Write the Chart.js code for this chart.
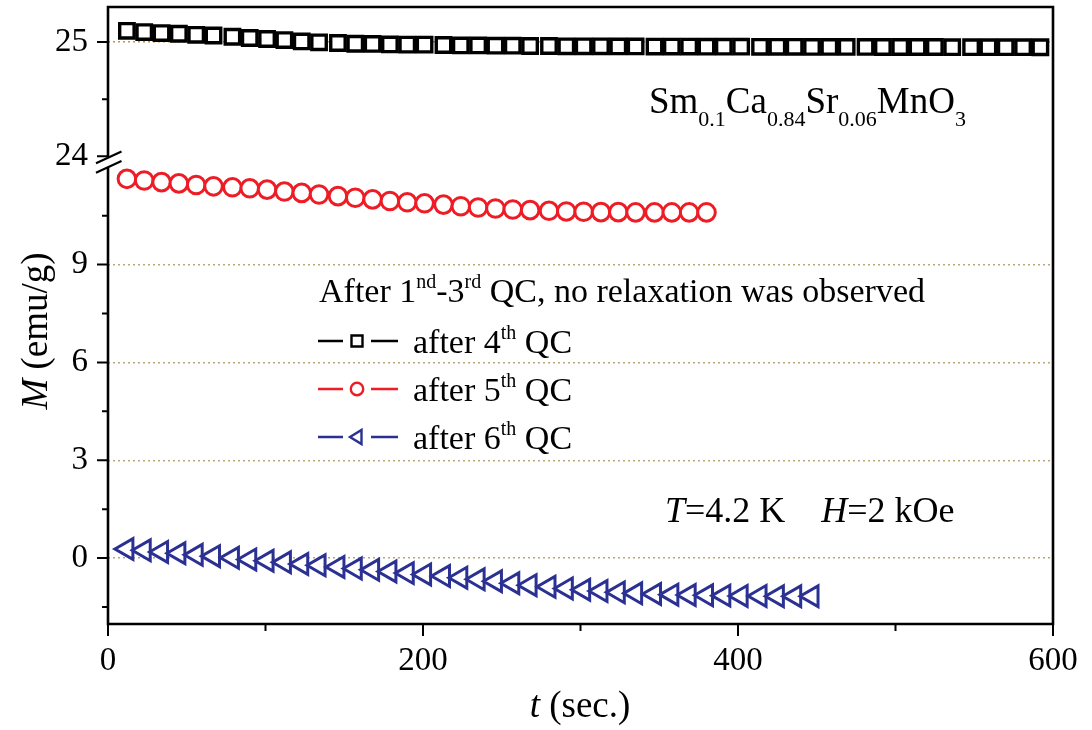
<!DOCTYPE html>
<html><head><meta charset="utf-8">
<script src="https://cdn.jsdelivr.net/npm/chart.js@4.4.0/dist/chart.umd.min.js"></script>
<style>html,body{margin:0;padding:0;background:#fff;} canvas{display:block;}</style>
</head><body>
<canvas id="c" width="1092" height="730"></canvas>
<script>
// ---- data ----
const timeSec = [12, 23, 34, 45, 56, 67, 79, 90, 101, 112,
  123, 134, 146, 157, 168, 179, 190, 201, 213, 224,
  235, 246, 257, 268, 280, 291, 302, 313, 324, 335,
  347, 358, 369, 380, 391, 402, 414, 425, 436, 447,
  458, 469, 481, 492, 503, 514, 525, 536, 548, 559,
  570, 581, 592];
const mAfter4 = [25.098, 25.087, 25.078, 25.072, 25.063, 25.057, 25.046, 25.035, 25.026, 25.017,
  25.005, 24.997, 24.991, 24.985, 24.983, 24.979, 24.977, 24.977, 24.974, 24.970,
  24.970, 24.968, 24.968, 24.965, 24.965, 24.962, 24.962, 24.962, 24.961, 24.961,
  24.960, 24.960, 24.960, 24.959, 24.959, 24.959, 24.958, 24.958, 24.958, 24.957,
  24.957, 24.957, 24.957, 24.956, 24.956, 24.956, 24.956, 24.955, 24.955, 24.955,
  24.955, 24.955, 24.954];
const mAfter5 = [11.63, 11.58, 11.53, 11.49, 11.44, 11.40, 11.37, 11.34, 11.30, 11.24,
  11.20, 11.15, 11.10, 11.05, 11.00, 10.95, 10.91, 10.88, 10.84, 10.79,
  10.75, 10.72, 10.69, 10.67, 10.65, 10.63, 10.62, 10.61, 10.61, 10.60,
  10.60, 10.60, 10.60, 10.60];
const mAfter6 = [0.28, 0.24, 0.19, 0.15, 0.10, 0.06, 0.01, -0.04, -0.08, -0.13,
  -0.18, -0.22, -0.27, -0.32, -0.36, -0.41, -0.46, -0.50, -0.55, -0.60,
  -0.65, -0.71, -0.77, -0.83, -0.88, -0.93, -0.97, -1.01, -1.05, -1.08,
  -1.10, -1.12, -1.13, -1.14, -1.15, -1.16, -1.16, -1.17, -1.17, -1.17];
const xTickLabels = [0, 200, 400, 600];
const yLowerTickLabels = [0, 3, 6, 9];
const yUpperTickLabels = [24, 25];
const seriesNames = ['after 4', 'after 5', 'after 6'];

// ---- styling ----
const FONT = '"Liberation Serif", "Times New Roman", serif';
const C_BLACK = '#000000', C_RED = '#ee1c25', C_BLUE = '#2b3192';
const GRID_LOW = '#b8a878', GRID_UP = '#c8953f';

function pts(vals) { return vals.map((v, i) => ({x: timeSec[i], y: v})); }

function fixWidth(w) {
  return (s) => { s.width = w; s.paddingTop = 0; s.paddingBottom = 0; };
}

const decor = {
  id: 'decor',
  afterDraw(chart) {
    const ctx = chart.ctx;
    const a = chart.chartArea;
    const xs = chart.scales.x, yl = chart.scales.yLow, yu = chart.scales.yUp;
    const brk = yu.bottom;
    const bTop = brk - 4.5, bBot = brk + 5;
    ctx.save();
    ctx.strokeStyle = '#000';
    ctx.lineCap = 'butt';
    // frame
    ctx.lineWidth = 2.6;
    ctx.beginPath();
    ctx.moveTo(a.left, bTop); ctx.lineTo(a.left, a.top);
    ctx.lineTo(a.right, a.top); ctx.lineTo(a.right, a.bottom);
    ctx.lineTo(a.left - 1.3, a.bottom);
    ctx.moveTo(a.left, a.bottom); ctx.lineTo(a.left, bBot);
    ctx.stroke();
    // ticks
    ctx.lineWidth = 2;
    ctx.beginPath();
    xs.ticks.forEach(t => {
      const px = xs.getPixelForValue(t.value);
      const len = (t.value % 200 === 0) ? 12 : 7;
      ctx.moveTo(px, a.bottom); ctx.lineTo(px, a.bottom + len);
    });
    yl.ticks.forEach(t => {
      if (t.value > 11) return;
      const py = yl.getPixelForValue(t.value);
      const len = (Math.abs(t.value % 3) < 1e-9) ? 11 : 6;
      ctx.moveTo(a.left, py); ctx.lineTo(a.left - len, py);
    });
    yu.ticks.forEach(t => {
      const py = yu.getPixelForValue(t.value);
      const len = (Math.abs(t.value % 1) < 1e-9) ? 11 : 6;
      ctx.moveTo(a.left, py); ctx.lineTo(a.left - len, py);
    });
    ctx.stroke();
    // break marks
    ctx.lineWidth = 2.2;
    ctx.beginPath();
    [bTop, bBot].forEach(y0 => {
      ctx.moveTo(a.left - 12, y0 + 5.5);
      ctx.lineTo(a.left + 13.5, y0 - 6.2);
    });
    ctx.stroke();

    function runs(x, y, parts) {
      parts.forEach(p => {
        ctx.font = p.f;
        ctx.fillText(p.t, x, y + (p.dy || 0));
        x += ctx.measureText(p.t).width;
      });
    }
    function runsWidth(parts) {
      let w = 0;
      parts.forEach(p => { ctx.font = p.f; w += ctx.measureText(p.t).width; });
      return w;
    }
    ctx.fillStyle = '#000';
    ctx.textBaseline = 'alphabetic';
    ctx.textAlign = 'left';
    const F = (s, it) => (it ? 'italic ' : '') + s + 'px ' + FONT;

    // compound label
    runs(649, 113, [
      {t: 'Sm', f: F(37)}, {t: '0.1', f: F(22), dy: 13},
      {t: 'Ca', f: F(37)}, {t: '0.84', f: F(22), dy: 13},
      {t: 'Sr', f: F(37)}, {t: '0.06', f: F(22), dy: 13},
      {t: 'MnO', f: F(37)}, {t: '3', f: F(22), dy: 13}
    ]);
    // conditions
    runs(665, 522, [
      {t: 'T', f: F(36, true)}, {t: '=4.2 K    ', f: F(36)},
      {t: 'H', f: F(36, true)}, {t: '=2 kOe', f: F(36)}
    ]);
    // legend header
    runs(319, 302, [
      {t: 'After 1', f: F(34)}, {t: 'nd', f: F(20), dy: -14},
      {t: '-3', f: F(34)}, {t: 'rd', f: F(20), dy: -14},
      {t: ' QC, no relaxation was observed', f: F(34)}
    ]);
    // legend rows
    const rows = [
      {c: C_BLACK, s: 'rect', n: seriesNames[0], y: 341},
      {c: C_RED, s: 'circle', n: seriesNames[1], y: 389},
      {c: C_BLUE, s: 'tri', n: seriesNames[2], y: 437}
    ];
    rows.forEach(r => {
      ctx.strokeStyle = r.c;
      ctx.lineWidth = 2.5;
      ctx.beginPath();
      ctx.moveTo(318, r.y); ctx.lineTo(343, r.y);
      ctx.moveTo(371, r.y); ctx.lineTo(398, r.y);
      ctx.stroke();
      ctx.lineWidth = 2.4;
      ctx.beginPath();
      const cx = 357;
      if (r.s === 'rect') ctx.rect(cx - 5.5, r.y - 5.5, 11, 11);
      else if (r.s === 'circle') ctx.arc(cx, r.y, 6.2, 0, Math.PI * 2);
      else { ctx.moveTo(cx - 7, r.y); ctx.lineTo(cx + 4.5, r.y - 7); ctx.lineTo(cx + 4.5, r.y + 7); ctx.closePath(); }
      ctx.stroke();
      ctx.fillStyle = '#000';
      runs(413, r.y + 12, [
        {t: r.n, f: F(34)}, {t: 'th', f: F(20), dy: -14}, {t: ' QC', f: F(34)}
      ]);
    });

    // axis titles
    const xt = [{t: 't', f: F(37, true)}, {t: ' (sec.)', f: F(37)}];
    runs(580 - runsWidth(xt) / 2, 717, xt);
    const yt = [{t: 'M', f: F(37, true)}, {t: ' (emu/g)', f: F(37)}];
    ctx.save();
    ctx.translate(47, 331);
    ctx.rotate(-Math.PI / 2);
    runs(-runsWidth(yt) / 2, 0, yt);
    ctx.restore();
    ctx.restore();
  }
};

const chart = new Chart(document.getElementById('c'), {
  type: 'scatter',
  data: {
    datasets: [
      {label: seriesNames[0], data: pts(mAfter4), yAxisID: 'yUp', showLine: false,
        pointStyle: 'rect', pointRadius: 10.2, pointBorderWidth: 3.4,
        pointBorderColor: C_BLACK, pointBackgroundColor: '#fff'},
      {label: seriesNames[1], data: pts(mAfter5), yAxisID: 'yLow', showLine: false,
        pointStyle: 'circle', pointRadius: 8.8, pointBorderWidth: 3,
        pointBorderColor: C_RED, pointBackgroundColor: '#fff'},
      {label: seriesNames[2], data: pts(mAfter6), yAxisID: 'yLow', showLine: false,
        pointStyle: 'triangle', pointRotation: -90, pointRadius: 12, pointBorderWidth: 3,
        pointBorderColor: C_BLUE, pointBackgroundColor: '#fff'}
    ]
  },
  options: {
    responsive: false,
    animation: false,
    events: [],
    layout: {autoPadding: false, padding: {top: 7, right: 39, left: 0, bottom: 0}},
    plugins: {legend: {display: false}, tooltip: {enabled: false}},
    scales: {
      x: {
        type: 'linear', position: 'bottom', min: 0, max: 600,
        grid: {display: false, drawTicks: false},
        border: {display: false},
        ticks: {
          stepSize: 100, padding: 18, maxRotation: 0, autoSkip: false, color: '#000',
          font: {family: FONT, size: 33},
          callback: v => xTickLabels.includes(v) ? String(v) : ''
        },
        afterFit: s => { s.height = 106; s.paddingLeft = 0; s.paddingRight = 0; }
      },
      yLow: {
        type: 'linear', position: 'left', stack: 'm', stackWeight: 461.8,
        min: -2.02, max: 12.14,
        grid: {drawTicks: false, lineWidth: 1.5,
          color: c => yLowerTickLabels.includes(c.tick.value) ? GRID_LOW : 'rgba(0,0,0,0)'},
        border: {display: false, dash: [2, 3]},
        ticks: {
          stepSize: 1.5, includeBounds: false, padding: 20, autoSkip: false, color: '#000',
          font: {family: FONT, size: 33},
          callback: v => yLowerTickLabels.includes(v) ? String(v) : ''
        },
        afterFit: fixWidth(108)
      },
      yUp: {
        type: 'linear', position: 'left', stack: 'm', stackWeight: 155.2,
        min: 23.949, max: 25.306,
        grid: {drawTicks: false, lineWidth: 1.5,
          color: c => c.tick.value === 25 ? GRID_UP : 'rgba(0,0,0,0)'},
        border: {display: false, dash: [2, 3]},
        ticks: {
          stepSize: 0.5, includeBounds: false, padding: 20, autoSkip: false, color: '#000',
          font: {family: FONT, size: 33},
          callback: v => yUpperTickLabels.includes(v) ? String(v) : ''
        },
        afterFit: fixWidth(108)
      }
    }
  },
  plugins: [decor]
});
</script>
</body></html>
